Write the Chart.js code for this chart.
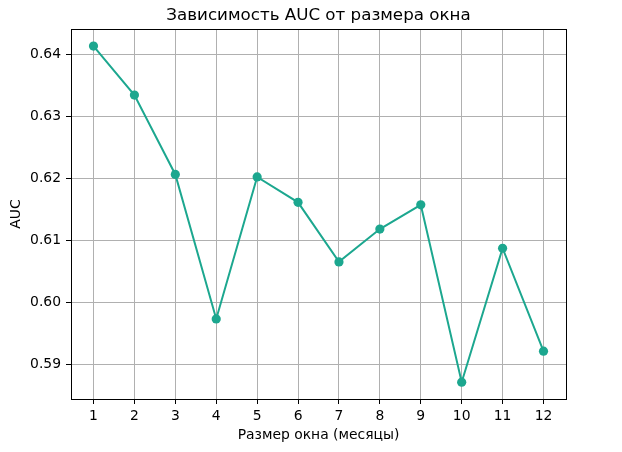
<!DOCTYPE html>
<html>
<head>
<meta charset="utf-8">
<script src="https://cdn.jsdelivr.net/npm/chart.js@4.4.1/dist/chart.umd.min.js"></script>
<style>
  body { margin: 0; background: #fff; }
  #wrap { width: 622px; height: 452px; }
</style>
</head>
<body>
<div id="wrap"><canvas id="myChart" width="622" height="452"></canvas></div>
<script>
// data
var windowSizes = [1, 2, 3, 4, 5, 6, 7, 8, 9, 10, 11, 12];
var aucValues = [0.6413, 0.6334, 0.6206, 0.5973, 0.6202, 0.6161, 0.6065, 0.6118, 0.6157, 0.5871, 0.6087, 0.5921];
var xTicks = [1, 2, 3, 4, 5, 6, 7, 8, 9, 10, 11, 12];
var yTicks = [0.59, 0.60, 0.61, 0.62, 0.63, 0.64];

var lineColor = '#1ca78f';
var fontFamily = "'DejaVu Sans', sans-serif";

var points = windowSizes.map(function (w, i) { return { x: w, y: aucValues[i] }; });

// top and right spines
var frame = {
    id: 'frame',
    afterDraw: function (chart) {
        var a = chart.chartArea, c = chart.ctx;
        c.save();
        c.strokeStyle = '#000';
        c.lineWidth = 1;
        c.strokeRect(Math.round(a.left) + 0.5, Math.round(a.top) + 0.5,
            Math.round(a.right - a.left), Math.round(a.bottom - a.top));
        c.restore();
    }
};

var ctx = document.getElementById('myChart');
var chart = new Chart(ctx, {
    type: 'line',
    data: {
        datasets: [{
            data: points,
            borderColor: lineColor,
            backgroundColor: lineColor,
            borderWidth: 2,
            pointRadius: 4.6,
            pointHoverRadius: 4.6,
            pointBorderWidth: 0,
            tension: 0
        }]
    },
    plugins: [frame],
    options: {
        responsive: false,
        animation: false,
        layout: { padding: { left: 0, right: 56, top: 0, bottom: 0 } },
        plugins: {
            legend: { display: false },
            tooltip: { enabled: false },
            title: {
                display: true,
                fullSize: false,
                text: 'Зависимость AUC от размера окна',
                color: '#000',
                font: { family: fontFamily, size: 16.7, weight: 'normal', lineHeight: 1.2 },
                padding: { top: 6, bottom: 3 }
            }
        },
        scales: {
            x: {
                type: 'linear',
                min: 0.45,
                max: 12.55,
                afterBuildTicks: function (scale) {
                    scale.ticks = xTicks.map(function (v) { return { value: v }; });
                },
                afterFit: function (scale) { scale.height = 53; },
                grid: { color: '#b0b0b0', lineWidth: 1, tickColor: '#000', tickLength: 5 },
                border: { display: true, color: '#000', width: 1 },
                ticks: {
                    color: '#000',
                    padding: 4,
                    maxRotation: 0,
                    autoSkip: false,
                    font: { family: fontFamily, size: 13.9 },
                    callback: function (v) { return String(v); }
                },
                title: {
                    display: true,
                    text: 'Размер окна (месяцы)',
                    color: '#000',
                    font: { family: fontFamily, size: 13.9 },
                    padding: { top: 2, bottom: 8 }
                }
            },
            y: {
                type: 'linear',
                min: 0.58439,
                max: 0.64405,
                afterBuildTicks: function (scale) {
                    scale.ticks = yTicks.map(function (v) { return { value: v }; });
                },
                afterFit: function (scale) { scale.width = 71; },
                grid: { color: '#b0b0b0', lineWidth: 1, tickColor: '#000', tickLength: 5 },
                border: { display: true, color: '#000', width: 1 },
                ticks: {
                    color: '#000',
                    padding: 5,
                    font: { family: fontFamily, size: 13.9 },
                    callback: function (v) { return v.toFixed(2); }
                },
                title: {
                    display: true,
                    text: 'AUC',
                    color: '#000',
                    font: { family: fontFamily, size: 13.9 },
                    padding: { top: 8, bottom: 0 }
                }
            }
        }
    }
});
</script>
</body>
</html>
